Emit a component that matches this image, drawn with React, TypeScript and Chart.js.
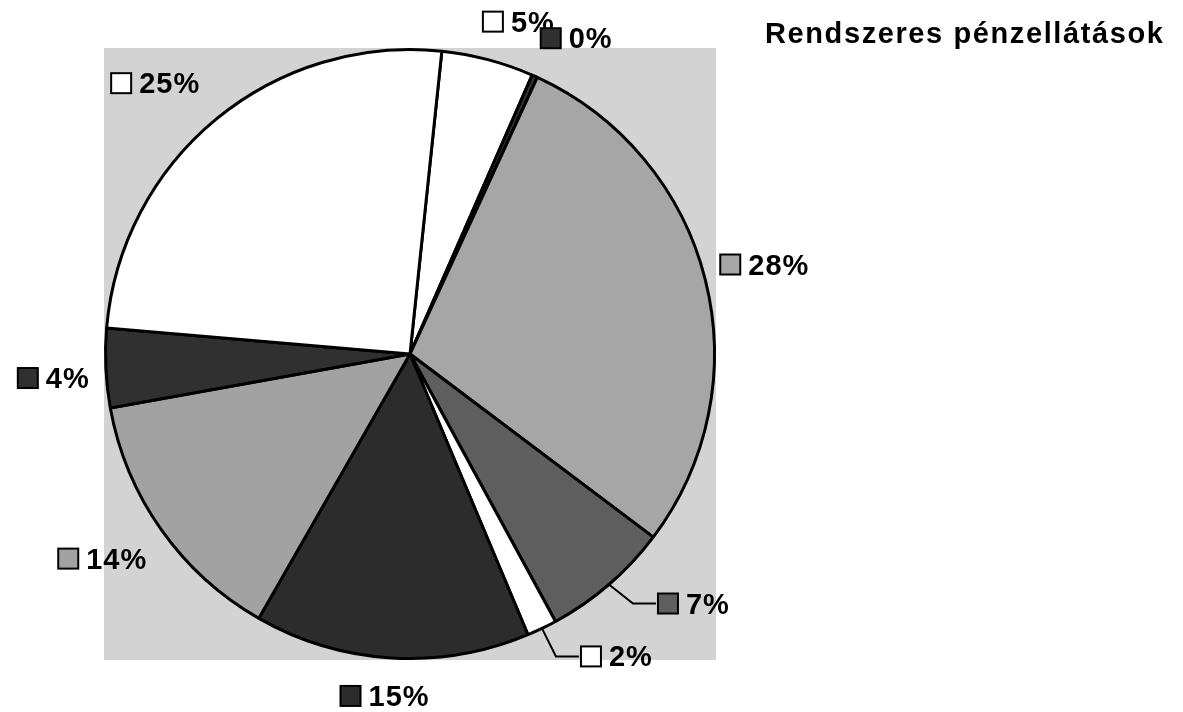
import { useEffect, useRef } from 'react';
import { Chart, registerables } from 'chart.js';

Chart.register(...registerables);

const titleText = 'Rendszeres pénzellátások';
const categories = ['1', '2', '3', '4', '5', '6', '7', '8', '9'];
const values = [4.9, 0.3, 28.4, 6.8, 1.6, 14.6, 13.9, 4.2, 25.3];
const percentLabels = ['5%', '0%', '28%', '7%', '2%', '15%', '14%', '4%', '25%'];

const sliceColors = ['#ffffff', '#303030', '#a6a6a6', '#5e5e5e', '#ffffff', '#2c2c2c', '#a2a2a2', '#303030', '#ffffff'];
// label key offset from slice outer mid point (style only)
const labelOffsets: [number, number][] = [
  [5, -38], [16, -38], [25, -15], [59, 19], [49, 28], [-41, 38], [-93, 29], [-78, 10], [-95, -36],
];
const leaderFlags = [false, false, false, true, true, false, false, false, false];

const FONT = 'bold 29px "Liberation Sans", Arial, sans-serif';

const decorPlugin = {
  id: 'decor',
  beforeDraw(chart: any) {
    const { ctx, chartArea } = chart;
    ctx.save();
    ctx.fillStyle = '#ffffff';
    ctx.fillRect(0, 0, chart.width, chart.height);
    ctx.fillStyle = '#d3d3d3';
    ctx.fillRect(chartArea.left, chartArea.top, chartArea.right - chartArea.left, chartArea.bottom - chartArea.top);
    ctx.restore();
  },
  afterDraw(chart: any) {
    const { ctx } = chart;
    const meta = chart.getDatasetMeta(0);
    ctx.save();
    meta.data.forEach((arc: any, i: number) => {
      const { x, y, startAngle, endAngle, outerRadius } = arc.getProps(['x', 'y', 'startAngle', 'endAngle', 'outerRadius'], true);
      const mid = (startAngle + endAngle) / 2;
      const ax = x + Math.cos(mid) * outerRadius;
      const ay = y + Math.sin(mid) * outerRadius;
      const [ox, oy] = labelOffsets[i];
      const kcx = ax + ox;
      const kcy = ay + oy;
      const ks = 20;
      const kl = kcx - ks / 2;
      const kt = kcy - ks / 2;
      if (leaderFlags[i]) {
        ctx.beginPath();
        ctx.strokeStyle = '#000';
        ctx.lineWidth = 2;
        ctx.moveTo(ax, ay);
        ctx.lineTo(kl - 25, kcy);
        ctx.lineTo(kl - 2, kcy);
        ctx.stroke();
      }
      ctx.fillStyle = sliceColors[i];
      ctx.fillRect(kl, kt, ks, ks);
      ctx.strokeStyle = '#000';
      ctx.lineWidth = 2;
      ctx.strokeRect(kl, kt, ks, ks);
      ctx.fillStyle = '#000';
      ctx.font = FONT;
      (ctx as any).letterSpacing = '1px';
      ctx.textAlign = 'left';
      ctx.textBaseline = 'alphabetic';
      ctx.fillText(percentLabels[i], kl + ks + 8, kcy + 10);
    });
    ctx.fillStyle = '#000';
    ctx.font = 'bold 29px "Liberation Sans", Arial, sans-serif';
    (ctx as any).letterSpacing = '1.6px';
    ctx.textAlign = 'left';
    ctx.textBaseline = 'alphabetic';
    ctx.fillText(titleText, 765, 43);
    ctx.restore();
  },
};

export default function App() {
  const ref = useRef<HTMLCanvasElement | null>(null);
  useEffect(() => {
    document.body.style.margin = '0';
    if (!ref.current) return;
    const chart = new Chart(ref.current, {
      type: 'pie',
      data: {
        labels: categories,
        datasets: [
          {
            data: values,
            backgroundColor: sliceColors,
            borderColor: '#000000',
            borderWidth: 3,
          },
        ],
      },
      options: {
        animation: false,
        responsive: false,
        rotation: 6,
        layout: { padding: { left: 104, right: 467, top: 48, bottom: 52 } },
        plugins: {
          legend: { display: false },
          tooltip: { enabled: false },
          title: { display: false },
        },
      },
      plugins: [decorPlugin],
    });
    return () => chart.destroy();
  }, []);
  return <canvas ref={ref} width={1183} height={712} style={{ display: 'block' }} />;
}
